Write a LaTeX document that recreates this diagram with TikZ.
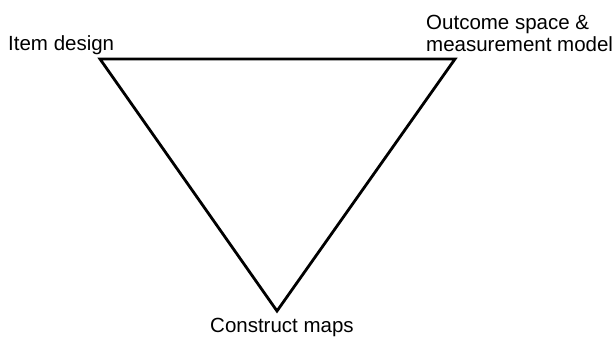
\documentclass[tikz,border=0pt]{standalone}
\usepackage{fontspec}
\setmainfont{Liberation Sans}
\begin{document}
\begin{tikzpicture}[x=1pt,y=-1pt,
  lbl/.style={inner sep=0pt, font=\fontsize{20.5}{22}\selectfont, align=left},
  edge/.style={line width=2.8pt, line join=miter}]
\useasboundingbox (0,0) rectangle (612,337);
\coordinate (A) at (100,59);
\coordinate (B) at (455,59);
\coordinate (C) at (277,311);
\draw[edge] (A) -- (B) -- (C) -- cycle;
\node[lbl, anchor=base west] (item) at (8,51) {Item design};
\node[lbl, anchor=base west] (out) at (426,52) {Outcome space \&\\measurement model};
\node[lbl, anchor=base west] (con) at (210,332) {Construct maps};
\end{tikzpicture}
\end{document}
